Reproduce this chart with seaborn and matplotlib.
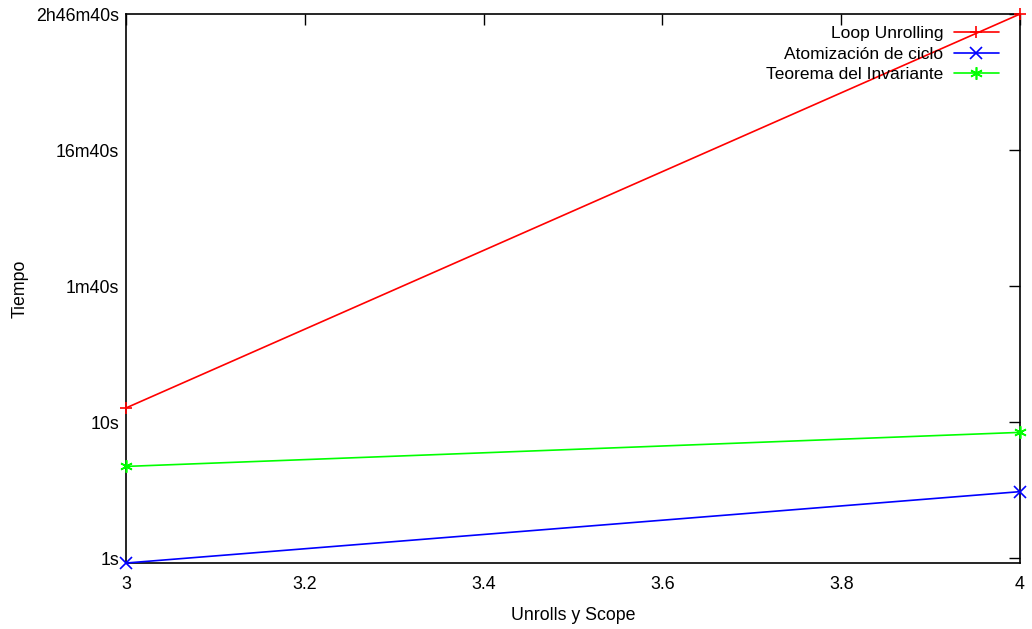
import numpy as np
import pandas as pd
import seaborn as sns
import matplotlib
matplotlib.use("Agg")
import matplotlib.pyplot as plt
from matplotlib.ticker import FuncFormatter, FixedLocator

# Datos (segundos)
unrolls = [3, 4]
loop_unrolling = [12.7, 10000]
atomizacion = [0.92, 3.08]
invariante = [4.72, 8.4]

series = ["Loop Unrolling", "Atomización de ciclo", "Teorema del Invariante"]
colores = ["#ff0000", "#0000ff", "#00ff00"]
marcadores = ["+", "x", (6, 2, 0)]

df = pd.DataFrame({
    "x": unrolls * 3,
    "tiempo": loop_unrolling + atomizacion + invariante,
    "serie": [s for s in series for _ in unrolls],
})

sns.set_style("white")
plt.rcParams["font.family"] = ["Liberation Sans", "DejaVu Sans"]
plt.rcParams["text.color"] = "black"
plt.rcParams["axes.labelcolor"] = "black"


def fmt_tiempo(v, pos):
    s = int(round(v))
    h, rem = divmod(s, 3600)
    m, sec = divmod(rem, 60)
    out = ""
    if h:
        out += f"{h}h"
    if h or m:
        out += f"{m}m"
    return out + f"{sec}s"


fig = plt.figure(figsize=(10.32, 6.29), dpi=100)
ax = fig.add_axes([0.1221, 0.1049, 0.8663, 0.8728])

for serie, color, mk in zip(series, colores, marcadores):
    sub = df[df["serie"] == serie]
    sns.lineplot(data=sub, x="x", y="tiempo", ax=ax, color=color, marker=mk,
                 markersize=9, markeredgewidth=1.2, markeredgecolor=color,
                 linewidth=1.2, label=serie, clip_on=False, zorder=3)

ax.set_yscale("log")
ax.set_xlim(3, 4)
ax.set_ylim(0.92, 10000)
ax.yaxis.set_major_locator(FixedLocator([1, 10, 100, 1000, 10000]))
ax.yaxis.set_major_formatter(FuncFormatter(fmt_tiempo))
ax.yaxis.set_minor_locator(FixedLocator([]))
ax.set_xticks(np.arange(3, 4.01, 0.2))
ax.xaxis.set_major_formatter(FuncFormatter(lambda v, p: f"{v:g}"))
ax.tick_params(axis="both", direction="in", length=8, width=1, top=True,
               right=True, labelsize=12.8, colors="black")
ax.tick_params(axis="x", pad=9)
ax.tick_params(axis="y", pad=5)
for sp in ax.spines.values():
    sp.set_color("black")
    sp.set_linewidth(1.2)

ax.set_xlabel("Unrolls y Scope", fontsize=12.8, va="center")
ax.set_ylabel("Tiempo", fontsize=12.8, va="center")
ax.xaxis.set_label_coords(0.5, -0.0947)
ax.yaxis.set_label_coords(-0.1186, 0.5)

ax.legend(loc="upper right", frameon=False, markerfirst=False, fontsize=12.5,
          handlelength=2.6, handletextpad=0.6, borderaxespad=0.3,
          labelspacing=0.3, bbox_to_anchor=(0.99, 1.0))

fig.savefig("out.png", dpi=100)
